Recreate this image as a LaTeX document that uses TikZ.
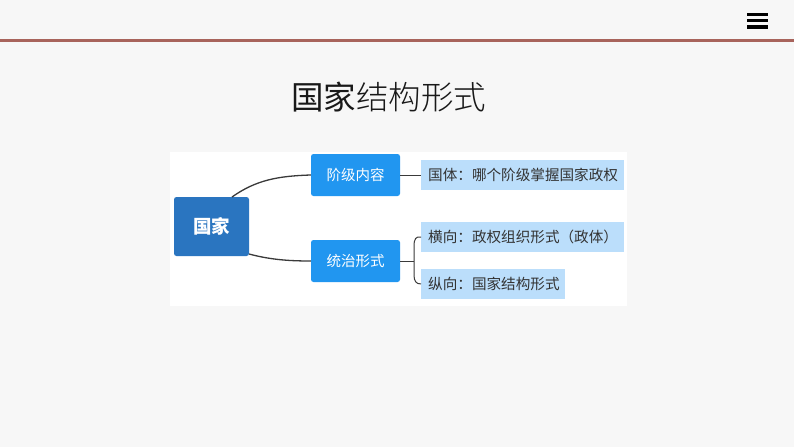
\documentclass[tikz,border=0pt]{standalone}
\usepackage{fontspec}
\setmainfont{Noto Sans CJK SC}
\newfontfamily\cjklight{Noto Sans CJK SC Light}
\newcommand\fwcolon{\symbol{"FF1A}}
\newcommand\fwopen{\symbol{"FF08}}
\newcommand\fwclose{\symbol{"FF09}}
\definecolor{bgc}{HTML}{F7F7F7}
\definecolor{barc}{HTML}{A8645C}
\definecolor{rootc}{HTML}{2A75C0}
\definecolor{midc}{HTML}{2196F0}
\definecolor{leafc}{HTML}{BBDEFB}
\definecolor{linec}{HTML}{3A3A3A}
\definecolor{txtc}{HTML}{333333}
\tikzset{
  x=1pt,y=-1pt,
  root/.style={fill=rootc,rounded corners=2.5pt,text=white,font=\fontsize{18.5}{22}\selectfont\bfseries,inner sep=0pt},
  mid/.style={fill=midc,rounded corners=2.5pt,text=white,font=\fontsize{14.5}{17}\selectfont,inner sep=0pt},
  leaf/.style={fill=leafc,text=txtc,font=\fontsize{14.6}{17}\selectfont,inner sep=0pt,anchor=west,align=left,minimum height=30pt},
  conn/.style={draw=linec,line width=1.3pt},
  thin conn/.style={draw=linec,line width=1pt}
}
\begin{document}
\begin{tikzpicture}
\useasboundingbox (0,0) rectangle (794,447);
\fill[bgc] (0,0) rectangle (794,447);
\fill[barc] (0,38.5) rectangle (794,42);
\fill[black] (746.5,12.5) rectangle (767.5,16);
\fill[black] (746.5,18.7) rectangle (767.5,22.2);
\fill[black] (746.5,25) rectangle (767.5,28.5);
\node[inner sep=0pt,text=black!90,anchor=center] (title) at (388.5,97)
  {\fontsize{32.5}{38}\selectfont 国家{\cjklight 结构形式}};
\fill[white] (170,152) rectangle (627,306);
\node[root,minimum width=75pt,minimum height=59pt] (guojia) at (211.5,226.5) {\raisebox{-1.2pt}{国家}};
\node[mid,minimum width=89pt,minimum height=42pt] (jieji) at (355.5,175) {阶级内容};
\node[mid,minimum width=89pt,minimum height=42pt] (tongzhi) at (355.5,261) {统治形式};
\node[leaf,text width=203pt] (l1) at (421,175) {\hspace*{7pt}\mbox{国体\fwcolon 哪个阶级掌握国家政权}};
\node[leaf,text width=203pt] (l2) at (421,237) {\hspace*{7pt}\mbox{横向\fwcolon 政权组织形式\fwopen 政体\fwclose}};
\node[leaf,text width=144pt] (l3) at (421,284) {\hspace*{7pt}\mbox{纵向\fwcolon 国家结构形式}};
\coordinate (b1) at (232,197);
\coordinate (b2) at (249,254);
\draw[conn] (b1) .. controls (256,180) and (278,176) .. (jieji.west);
\draw[conn] (b2) .. controls (268,259) and (285,261) .. (tongzhi.west);
\draw[thin conn] (jieji.east) -- (l1.west);
\draw[thin conn] (tongzhi.east) -- (414,261);
\draw[thin conn] (l2.west) .. controls (416,236) and (414,239) .. (414,246) -- (414,275) .. controls (414,281) and (416,284) .. (l3.west);
\end{tikzpicture}
\end{document}
